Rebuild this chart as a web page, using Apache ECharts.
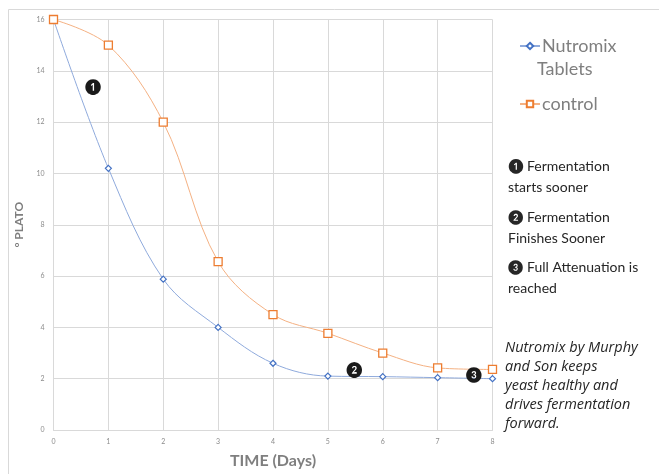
<!DOCTYPE html>
<html><head><meta charset="utf-8">
<script src="https://cdn.jsdelivr.net/npm/echarts@6/dist/echarts.min.js"></script>
<style>html,body{margin:0;padding:0;background:#fff}#c{width:659px;height:474px}</style>
</head><body><div id="c"></div>
<script>
var days = [0,1,2,3,4,5,6,7,8];
var nutromix = [16, 10.2, 5.88, 4.0, 2.6, 2.1, 2.08, 2.04, 2.0];
var control = [16, 15.0, 12.0, 6.56, 4.5, 3.77, 3.0, 2.42, 2.36];
var notes = [
  ['\u2776 Fermentation','starts sooner'],
  ['\u2777 Fermentation','Finishes Sooner'],
  ['\u2778 Full Attenuation is','reached']
];
var blurb = ['Nutromix by Murphy','and Son keeps','yeast healthy and','drives fermentation','forward.'];
var callouts = [['\u2776',0.72,13.35],['\u2777',5.48,2.35],['\u2778',7.66,2.13]];

var FONT = 'Lato, "Open Sans", sans-serif';
function pairs(arr){ return days.map(function(d,i){return [d,arr[i]];}); }

var graphics = [
  {type:'rect', shape:{x:8.5,y:9.5,width:700,height:500}, style:{fill:'none',stroke:'#d9d9d9',lineWidth:1}, silent:true},
  {type:'text', left:537, top:60, style:{text:'Tablets', font:'18px '+FONT, fill:'#7f7f7f'}}
];
var ny = [165,216,266];
notes.forEach(function(n,i){
  graphics.push({type:'text', left:508, top:ny[i]-9, style:{text:n[0]+'\n'+n[1], font:'14px '+FONT, fill:'#262626', lineHeight:21}});
});
graphics.push({type:'text', left:505, top:338, style:{text:blurb.join('\n'), font:'italic 14.5px "Open Sans", sans-serif', fill:'#262626', lineHeight:19}});

var chart = echarts.init(document.getElementById('c'));
chart.setOption({
  animation:false,
  textStyle:{fontFamily:FONT},
  grid:{left:53.5,right:166.5,top:19.5,bottom:41.5},
  xAxis:{type:'value',min:0,max:8,interval:1,
    name:'TIME (Days)',nameLocation:'middle',nameGap:23,
    nameTextStyle:{fontSize:16,fontWeight:'bold',color:'#7f7f7f'},
    axisLine:{show:true,lineStyle:{color:'#d9d9d9'}},axisTick:{show:false},
    axisLabel:{fontSize:7,color:'#8c8c8c',margin:8},
    splitLine:{show:true,lineStyle:{color:'#d9d9d9'}}},
  yAxis:{type:'value',min:0,max:16,interval:2,
    name:'° PLATO',nameLocation:'middle',nameGap:24,
    nameTextStyle:{fontSize:12,fontWeight:'bold',color:'#7f7f7f'},
    axisLine:{show:false},axisTick:{show:false},
    axisLabel:{fontSize:7,color:'#8c8c8c',margin:9},
    splitLine:{show:true,lineStyle:{color:'#d9d9d9'}}},
  legend:{orient:'vertical',left:514,top:30,itemGap:36,itemWidth:20,itemHeight:8,
    textStyle:{fontSize:18,color:'#7f7f7f',lineHeight:22,padding:[0,0,0,-3]},
    formatter:function(n){return n==='Nutromix Tablets'?'Nutromix':n;},
    data:['Nutromix Tablets','control']},
  graphic:graphics,
  series:[
    {name:'Nutromix Tablets',type:'line',smooth:0.35,data:pairs(nutromix),
     symbol:'diamond',symbolSize:6,
     lineStyle:{color:'#8faadc',width:1},
     itemStyle:{color:'#fff',borderColor:'#4472c4',borderWidth:1.2},
     markPoint:{symbol:'circle',symbolSize:0,
       label:{show:true,fontSize:15,color:'#1a1a1a',formatter:'{b}',position:'inside'},
       data:callouts.map(function(c){return {name:c[0],coord:[c[1],c[2]]};})}},
    {name:'control',type:'line',smooth:0.35,data:pairs(control),
     symbol:'rect',symbolSize:8,
     lineStyle:{color:'#f4b183',width:1},
     itemStyle:{color:'#fff',borderColor:'#ed7d31',borderWidth:1.3}}
  ]
});
</script></body></html>
